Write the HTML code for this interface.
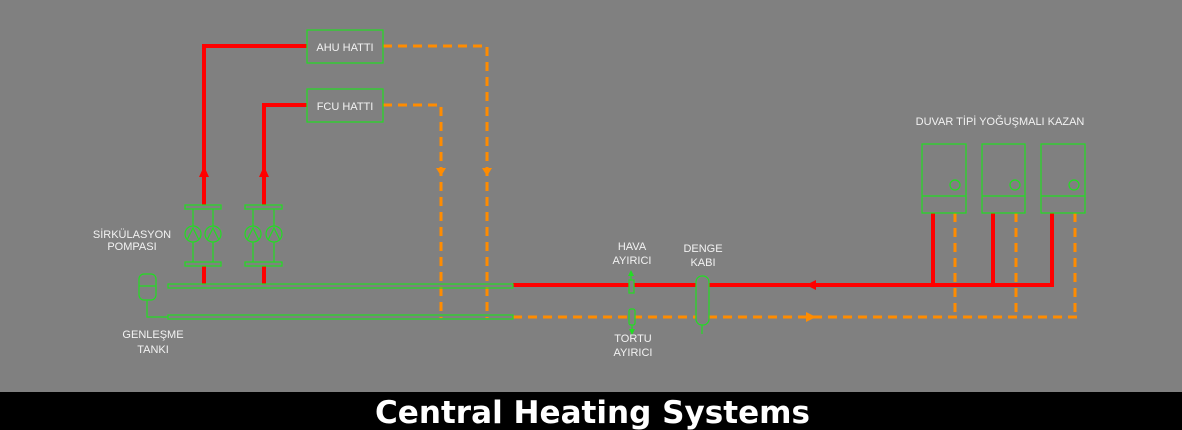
<!DOCTYPE html>
<html><head><meta charset="utf-8"><style>
html,body{margin:0;padding:0;background:#808080;}
svg{display:block}
text{font-family:"Liberation Sans",sans-serif;fill:#f2f2f2;font-size:11px;}
</style></head><body>
<svg width="1182" height="430" viewBox="0 0 1182 430" xmlns="http://www.w3.org/2000/svg">
<rect width="1182" height="430" fill="#808080"/>
<g stroke="#ff0000" stroke-width="4" fill="none">
<polyline points="204,205 204,46 307,46"/>
<polyline points="264,205 264,105 307,105"/>
<line x1="204" y1="266" x2="204" y2="284"/>
<line x1="264" y1="266" x2="264" y2="284"/>
<line x1="513" y1="285" x2="1054" y2="285"/>
<line x1="933" y1="213" x2="933" y2="285"/>
<line x1="993" y1="213" x2="993" y2="285"/>
<line x1="1052" y1="213" x2="1052" y2="285"/>
</g>
<g stroke="#ff8c00" stroke-width="3" fill="none" stroke-dasharray="9,6">
<polyline points="383,46 487,46 487,318"/>
<polyline points="383,105 441,105 441,318"/>
<line x1="513" y1="317" x2="1077" y2="317"/>
<line x1="955" y1="213" x2="955" y2="317"/>
<line x1="1016" y1="213" x2="1016" y2="317"/>
<line x1="1075" y1="213" x2="1075" y2="317"/>
</g>
<g fill="#ff0000">
<polygon points="204,166 199,177 209,177"/>
<polygon points="264,166 259,177 269,177"/>
<polygon points="806,285 816,280 816,290"/>
</g>
<g fill="#ff8c00">
<polygon points="441,176 436,168 446,168"/>
<polygon points="487,176 482,168 492,168"/>
<polygon points="816,317 806,312 806,322"/>
</g>
<g stroke="#22dd22" stroke-width="1.2" fill="none">
<rect x="307" y="30" width="76" height="33"/>
<rect x="307" y="89" width="76" height="33"/>
<rect x="168" y="284" width="345" height="4"/>
<rect x="168" y="315" width="345" height="4"/>
<rect x="185" y="205" width="36" height="4"/>
<rect x="185" y="262" width="36" height="4"/>
<line x1="193" y1="209" x2="193" y2="262"/><line x1="213" y1="209" x2="213" y2="262"/>
<circle cx="193" cy="234" r="8" fill="#808080"/><circle cx="213" cy="234" r="8" fill="#808080"/>
<polyline points="187,240 193,228 199,240"/><polyline points="207,240 213,228 219,240"/>
<rect x="245" y="205" width="37" height="4"/>
<rect x="245" y="262" width="37" height="4"/>
<line x1="253" y1="209" x2="253" y2="262"/><line x1="274" y1="209" x2="274" y2="262"/>
<circle cx="253" cy="234" r="8" fill="#808080"/><circle cx="274" cy="234" r="8" fill="#808080"/>
<polyline points="247,240 253,228 259,240"/><polyline points="268,240 274,228 280,240"/>
<rect x="139" y="274" width="17" height="26" rx="5"/>
<line x1="139" y1="286" x2="156" y2="286"/>
<polyline points="147,300 147,317 168,317"/>
<rect x="629" y="280" width="5" height="13" fill="#808080"/>
<line x1="631" y1="280" x2="631" y2="274"/>
<rect x="629" y="309" width="6" height="16" rx="2" fill="#808080"/>
<line x1="632" y1="325" x2="632" y2="332"/>
<rect x="696" y="276" width="13" height="49" rx="6" fill="#808080"/>
<line x1="702" y1="325" x2="702" y2="334"/>
<rect x="922" y="144" width="44" height="69"/><line x1="922" y1="196" x2="966" y2="196"/><circle cx="955" cy="185" r="5"/>
<rect x="982" y="144" width="43" height="69"/><line x1="982" y1="196" x2="1025" y2="196"/><circle cx="1015" cy="185" r="5"/>
<rect x="1041" y="144" width="44" height="69"/><line x1="1041" y1="196" x2="1085" y2="196"/><circle cx="1074" cy="185" r="5"/>
</g>
<g fill="#22dd22">
<polygon points="631,270 628,276 634,276"/>
<polygon points="632,335 629,329 635,329"/>
</g>
<text x="345" y="51" text-anchor="middle">AHU HATTI</text>
<text x="345" y="110" text-anchor="middle">FCU HATTI</text>
<text x="132" y="238" text-anchor="middle">SİRKÜLASYON</text>
<text x="132" y="250" text-anchor="middle">POMPASI</text>
<text x="153" y="338" text-anchor="middle">GENLEŞME</text>
<text x="153" y="353" text-anchor="middle">TANKI</text>
<text x="632" y="250" text-anchor="middle">HAVA</text>
<text x="632" y="264" text-anchor="middle">AYIRICI</text>
<text x="703" y="252" text-anchor="middle">DENGE</text>
<text x="703" y="266" text-anchor="middle">KABI</text>
<text x="633" y="342" text-anchor="middle">TORTU</text>
<text x="633" y="356" text-anchor="middle">AYIRICI</text>
<text x="1000" y="125" text-anchor="middle">DUVAR TİPİ YOĞUŞMALI KAZAN</text>
<rect x="0" y="392" width="1182" height="38" fill="#000"/>
<text x="375" y="423" textLength="435" lengthAdjust="spacingAndGlyphs" style="font-family:'DejaVu Sans',sans-serif;font-size:31px;font-weight:bold;fill:#fff">Central Heating Systems</text>
</svg>
</body></html>
